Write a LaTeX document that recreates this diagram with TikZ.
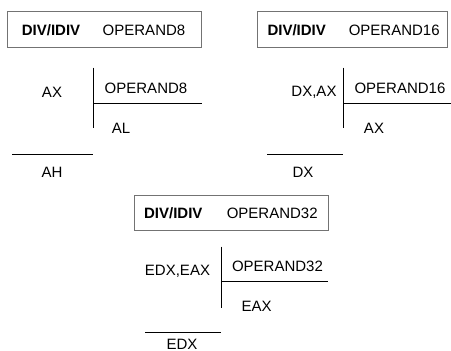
\documentclass[tikz,border=0pt]{standalone}
\usepackage{fontspec}
\setmainfont{Liberation Sans}
\begin{document}
\begin{tikzpicture}[x=1pt,y=-1pt,
  lbl/.style={inner sep=0pt,font=\fontsize{15}{17}\selectfont},
  kw/.style={lbl,font=\fontsize{15}{17}\selectfont\bfseries},
  opbox/.style={draw=black!55,line width=0.9pt,inner sep=0pt,minimum height=36pt},
  rule/.style={draw=black,line width=0.9pt}]
\useasboundingbox (0,0) rectangle (451,351);

% ---- 8-bit operand ----
\node[opbox,minimum width=194pt] (b1) at (104.5,29.7) {};
\node[kw] (k1) at (51,30) {DIV/IDIV};
\node[lbl] (o1) at (144,30) {OPERAND8};
\node[lbl] (d1) at (52,92) {AX};
\node[lbl] (s1) at (146,88) {OPERAND8};
\node[lbl] (q1) at (121,128.5) {AL};
\node[lbl] (r1) at (52,172) {AH};
\coordinate (v1t) at (93.3,67.7);
\coordinate (v1b) at (93.3,128.3);
\coordinate (h1l) at (93.3,103.3);
\coordinate (h1r) at (201.7,103.3);
\coordinate (u1l) at (12.3,154.3);
\coordinate (u1r) at (93.3,154.3);
\draw[rule] (v1t) -- (v1b);
\draw[rule] (h1l) -- (h1r);
\draw[rule] (u1l) -- (u1r);

% ---- 16-bit operand ----
\node[opbox,minimum width=190pt] (b2) at (352.5,29.7) {};
\node[kw] (k2) at (296.7,30) {DIV/IDIV};
\node[lbl] (o2) at (394.2,30) {OPERAND16};
\node[lbl] (d2) at (314,92) {DX,AX};
\node[lbl] (s2) at (400,88) {OPERAND16};
\node[lbl] (q2) at (374,128.5) {AX};
\node[lbl] (r2) at (303,172) {DX};
\coordinate (v2t) at (343.3,67.7);
\coordinate (v2b) at (343.3,128.3);
\coordinate (h2l) at (343.3,103.3);
\coordinate (h2r) at (451,103.3);
\coordinate (u2l) at (267.3,154.3);
\coordinate (u2r) at (343.3,154.3);
\draw[rule] (v2t) -- (v2b);
\draw[rule] (h2l) -- (h2r);
\draw[rule] (u2l) -- (u2r);

% ---- 32-bit operand ----
\node[opbox,minimum width=194pt,minimum height=35pt] (b3) at (231.2,212.9) {};
\node[kw] (k3) at (173.3,213) {DIV/IDIV};
\node[lbl] (o3) at (272.2,213) {OPERAND32};
\node[lbl] (d3) at (177.5,271) {EDX,EAX};
\node[lbl] (s3) at (277.5,266.5) {OPERAND32};
\node[lbl] (q3) at (256.7,306.7) {EAX};
\node[lbl] (r3) at (182,344) {EDX};
\coordinate (v3t) at (221,246.7);
\coordinate (v3b) at (221,307.7);
\coordinate (h3l) at (221,281);
\coordinate (h3r) at (328.3,281);
\coordinate (u3l) at (145,332.3);
\coordinate (u3r) at (221,332.3);
\draw[rule] (v3t) -- (v3b);
\draw[rule] (h3l) -- (h3r);
\draw[rule] (u3l) -- (u3r);
\end{tikzpicture}
\end{document}
